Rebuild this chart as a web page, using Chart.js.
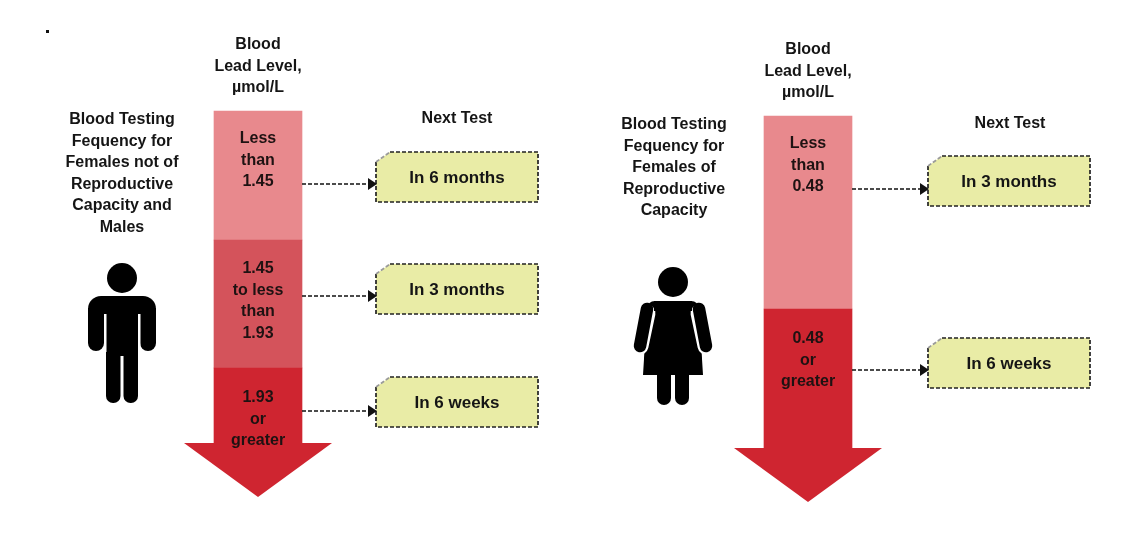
<!DOCTYPE html>
<html>
<head>
<meta charset="utf-8">
<script src="https://cdn.jsdelivr.net/npm/chart.js@4.4.1/dist/chart.umd.min.js"></script>
<style>
  html, body { margin: 0; padding: 0; background: #fff; }
  #wrap { position: relative; width: 1137px; height: 533px; }
</style>
</head>
<body>
<div id="wrap"><canvas id="myChart"></canvas></div>
<script>
// ---- data ----
var levelHeader = ['Blood', 'Lead Level,', 'µmol/L'];
var nextTestHeader = 'Next Test';

var leftTitle = ['Blood Testing', 'Fequency for', 'Females not of', 'Reproductive', 'Capacity and', 'Males'];
var leftLevels = [['Less', 'than', '1.45'], ['1.45', 'to less', 'than', '1.93'], ['1.93', 'or', 'greater']];
var leftNextTests = ['In 6 months', 'In 3 months', 'In 6 weeks'];

var rightTitle = ['Blood Testing', 'Fequency for', 'Females of', 'Reproductive', 'Capacity'];
var rightLevels = [['Less', 'than', '0.48'], ['0.48', 'or', 'greater']];
var rightNextTests = ['In 3 months', 'In 6 weeks'];

// ---- layout (units of the hidden scales) ----
var panels = [
    {
        title: leftTitle, levels: leftLevels, tests: leftNextTests, icon: 'man',
        cx: 258, top: 111, ends: [240, 368, 443], tip: 497, headHalf: 74,
        headerY: 45, titleX: 122, titleY: 120, iconX: 122, iconY: 278,
        levelY: [139, 269, 398],
        nextX: 457, nextY: 119, boxX: 376, boxTops: [152, 264, 377], arrowYs: [184, 296, 411],
        colors: ['#e8898d', '#d4535b', '#cf2530']
    },
    {
        title: rightTitle, levels: rightLevels, tests: rightNextTests, icon: 'woman',
        cx: 808, top: 116, ends: [309, 448], tip: 502, headHalf: 74,
        headerY: 50, titleX: 674, titleY: 125, iconX: 673, iconY: 282,
        levelY: [144, 339],
        nextX: 1010, nextY: 124, boxX: 928, boxTops: [156, 338], arrowYs: [189, 370],
        colors: ['#e8898d', '#cf2530']
    }
];
var barWidth = 88;
var boxW = 162, boxH = 50;
var lineH = 21.5;

function $each(arr, fn) {
    for (var i = 0; i < arr.length; i++) fn(arr[i], i);
}

function buildBars() {
    var pts = [];
    var cols = [];
    $each(panels, function (p) {
        var start = p.top;
        for (var i = 0; i < p.ends.length; i++) {
            pts.push({x: p.cx, y: [start, p.ends[i]]});
            cols.push(p.colors[i]);
            start = p.ends[i];
        }
    });
    return {pts: pts, cols: cols};
}

var bars = buildBars();

var diagramPlugin = {
    id: 'diagram',
    afterDatasetsDraw: function (chart) {
        var ctx = chart.ctx;
        var xs = chart.scales.x, ys = chart.scales.y;
        function X(v) { return xs.getPixelForValue(v); }
        function Y(v) { return ys.getPixelForValue(v); }

        ctx.save();
        ctx.textAlign = 'center';
        ctx.textBaseline = 'middle';

        // stray dot top-left
        ctx.fillStyle = '#111';
        ctx.fillRect(X(46), Y(30), 3, 3);

        $each(panels, function (p) {
            var half = barWidth / 2;
            var last = p.ends[p.ends.length - 1];

            // arrow head
            ctx.fillStyle = p.colors[p.colors.length - 1];
            ctx.beginPath();
            ctx.moveTo(X(p.cx - p.headHalf), Y(last));
            ctx.lineTo(X(p.cx + p.headHalf), Y(last));
            ctx.lineTo(X(p.cx), Y(p.tip));
            ctx.closePath();
            ctx.fill();

            ctx.fillStyle = '#151515';
            ctx.font = 'bold 16px "Liberation Sans", Arial, sans-serif';
            $each(levelHeader, function (t, i) {
                ctx.fillText(t, X(p.cx), Y(p.headerY + i * lineH));
            });
            $each(p.title, function (t, i) {
                ctx.fillText(t, X(p.titleX), Y(p.titleY + i * lineH));
            });
            ctx.fillText(nextTestHeader, X(p.nextX), Y(p.nextY));

            // level labels inside arrow
            ctx.fillStyle = '#1e1212';
            $each(p.levels, function (lines, k) {
                $each(lines, function (t, i) {
                    ctx.fillText(t, X(p.cx), Y(p.levelY[k] + i * lineH));
                });
            });

            // boxes + connectors
            $each(p.tests, function (t, k) {
                var bx = p.boxX, by = p.boxTops[k];
                var cutX = 14, cutY = 10;
                ctx.beginPath();
                ctx.moveTo(X(bx + cutX), Y(by));
                ctx.lineTo(X(bx + boxW), Y(by));
                ctx.lineTo(X(bx + boxW), Y(by + boxH));
                ctx.lineTo(X(bx), Y(by + boxH));
                ctx.lineTo(X(bx), Y(by + cutY));
                ctx.closePath();
                ctx.fillStyle = '#e9eca6';
                ctx.fill();

                ctx.setLineDash([4, 2]);
                ctx.lineWidth = 1.7;
                ctx.strokeStyle = '#222';
                ctx.beginPath();
                ctx.moveTo(X(bx + cutX), Y(by));
                ctx.lineTo(X(bx + boxW), Y(by));
                ctx.lineTo(X(bx + boxW), Y(by + boxH));
                ctx.lineTo(X(bx), Y(by + boxH));
                ctx.lineTo(X(bx), Y(by + cutY));
                ctx.stroke();
                ctx.strokeStyle = '#9a9a9a';
                ctx.beginPath();
                ctx.moveTo(X(bx), Y(by + cutY));
                ctx.lineTo(X(bx + cutX), Y(by));
                ctx.stroke();

                // dashed connector
                var ay = p.arrowYs[k];
                ctx.strokeStyle = '#111';
                ctx.lineWidth = 1.6;
                ctx.beginPath();
                ctx.moveTo(X(p.cx + half), Y(ay));
                ctx.lineTo(X(bx - 7), Y(ay));
                ctx.stroke();
                ctx.setLineDash([]);
                ctx.fillStyle = '#111';
                ctx.beginPath();
                ctx.moveTo(X(bx + 1), Y(ay));
                ctx.lineTo(X(bx - 8), Y(ay - 6));
                ctx.lineTo(X(bx - 8), Y(ay + 6));
                ctx.closePath();
                ctx.fill();

                ctx.fillStyle = '#151515';
                ctx.font = 'bold 17px "Liberation Sans", Arial, sans-serif';
                ctx.fillText(t, X(bx + boxW / 2), Y(by + 26));
                ctx.font = 'bold 16px "Liberation Sans", Arial, sans-serif';
            });

            drawIcon(ctx, p.icon, p.iconX, p.iconY, X, Y);
        });
        ctx.restore();
    }
};

function rr(ctx, x, y, w, h, r, X, Y) {
    ctx.beginPath();
    ctx.roundRect(X(x), Y(y), X(x + w) - X(x), Y(y + h) - Y(y), r);
    ctx.fill();
}

function drawIcon(ctx, kind, cx, hy, X, Y) {
    ctx.fillStyle = '#000';
    ctx.beginPath();
    ctx.arc(X(cx), Y(hy), 15, 0, Math.PI * 2);
    ctx.fill();
    if (kind === 'man') {
        var top = hy + 18;
        rr(ctx, cx - 34, top, 68, 24, [13, 13, 0, 0], X, Y);
        rr(ctx, cx - 34, top + 12, 16, 43, [0, 0, 8, 8], X, Y);
        rr(ctx, cx + 18, top + 12, 16, 43, [0, 0, 8, 8], X, Y);
        ctx.fillRect(X(cx - 16), Y(top + 10), X(cx + 16) - X(cx - 16), Y(top + 60) - Y(top + 10));
        rr(ctx, cx - 16, top + 50, 14.5, 57, [0, 0, 7, 7], X, Y);
        rr(ctx, cx + 1.5, top + 50, 14.5, 57, [0, 0, 7, 7], X, Y);
        // gaps between arms and torso
        ctx.fillStyle = '#fff';
        ctx.fillRect(X(cx - 18), Y(top + 18), 2.5, Y(top + 56) - Y(top + 18));
        ctx.fillRect(X(cx + 16), Y(top + 18), 2.5, Y(top + 56) - Y(top + 18));
    } else {
        var t = hy + 19;
        ctx.beginPath();
        ctx.moveTo(X(cx - 18), Y(t));
        ctx.lineTo(X(cx + 18), Y(t));
        ctx.quadraticCurveTo(X(cx + 25), Y(t), X(cx + 26), Y(t + 8));
        ctx.lineTo(X(cx + 30), Y(t + 74));
        ctx.lineTo(X(cx - 30), Y(t + 74));
        ctx.lineTo(X(cx - 26), Y(t + 8));
        ctx.quadraticCurveTo(X(cx - 25), Y(t), X(cx - 18), Y(t));
        ctx.closePath();
        ctx.fill();
        // arms
        ctx.lineCap = 'round';
        ctx.strokeStyle = '#fff';
        ctx.lineWidth = 17;
        ctx.beginPath();
        ctx.moveTo(X(cx - 26), Y(t + 12)); ctx.lineTo(X(cx - 33), Y(t + 45));
        ctx.moveTo(X(cx + 26), Y(t + 12)); ctx.lineTo(X(cx + 33), Y(t + 45));
        ctx.stroke();
        ctx.strokeStyle = '#000';
        ctx.lineWidth = 12.5;
        ctx.beginPath();
        ctx.moveTo(X(cx - 26), Y(t + 8)); ctx.lineTo(X(cx - 33), Y(t + 45));
        ctx.moveTo(X(cx + 26), Y(t + 8)); ctx.lineTo(X(cx + 33), Y(t + 45));
        ctx.stroke();
        // shoulder fill back in
        ctx.fillStyle = '#000';
        ctx.fillRect(X(cx - 19), Y(t), X(cx + 19) - X(cx - 19), Y(t + 10) - Y(t));
        // legs
        rr(ctx, cx - 16, t + 70, 14, 34, [0, 0, 7, 7], X, Y);
        rr(ctx, cx + 2, t + 70, 14, 34, [0, 0, 7, 7], X, Y);
    }
}

var ctx = document.getElementById('myChart').getContext('2d');
var chart = new Chart(ctx, {
    type: 'bar',
    data: {
        datasets: [{
            data: bars.pts,
            backgroundColor: bars.cols,
            borderWidth: 0,
            barThickness: barWidth,
            grouped: false
        }]
    },
    options: {
        responsive: true,
        maintainAspectRatio: false,
        animation: false,
        layout: { padding: 0 },
        plugins: { legend: { display: false }, tooltip: { enabled: false } },
        scales: {
            x: { type: 'linear', min: 0, max: 1137, offset: false, display: false },
            y: { type: 'linear', min: 0, max: 533, reverse: true, display: false }
        }
    },
    plugins: [diagramPlugin]
});
</script>
</body>
</html>
